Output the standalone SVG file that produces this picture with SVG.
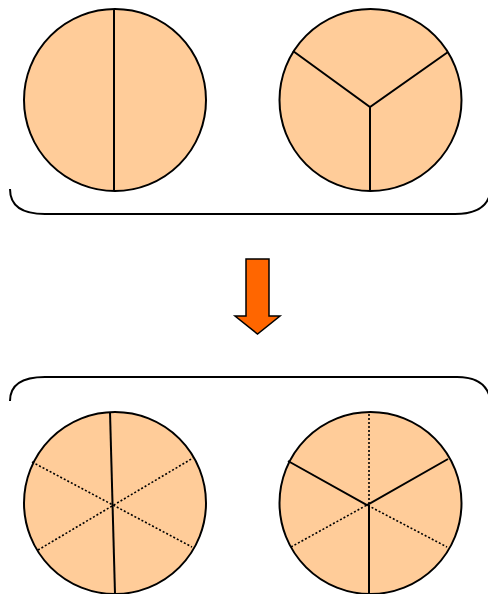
<svg xmlns="http://www.w3.org/2000/svg" width="488" height="594" viewBox="0 0 488 594">
<style>
.pie{fill:#FFCC99;stroke:#000;stroke-width:2}
.cut{stroke:#000;stroke-width:2;fill:none}
.dot{stroke:#000;stroke-width:1.6;stroke-dasharray:2,2;fill:none}
.br{stroke:#000;stroke-width:2;fill:none}
</style>
<g id="top-left">
<circle class="pie" cx="115" cy="100" r="91"/>
<line class="cut" x1="114" y1="9" x2="114" y2="191"/>
</g>
<g id="top-right">
<circle class="pie" cx="370.5" cy="100" r="91"/>
<polyline class="cut" points="293,51 370,107 448,52"/>
<line class="cut" x1="370" y1="107" x2="370" y2="191"/>
</g>
<g id="top-bracket">
<path class="br" d="M10,189 Q10,214 45,214 H455 Q485,214 490,194"/>
</g>
<g id="arrow">
<polygon points="246,259 269,259 269,316 280,316 257.5,334 235,316 246,316" fill="#FF6600" stroke="#000" stroke-width="1.5"/>
</g>
<g id="bottom-bracket">
<path class="br" d="M10,401 Q10,377 45,377 H457 Q485,377 490,398"/>
</g>
<g id="bottom-left">
<circle class="pie" cx="115" cy="503" r="91"/>
<line class="dot" x1="32" y1="462" x2="192" y2="547"/>
<line class="dot" x1="38" y1="550" x2="193" y2="458"/>
<line class="cut" x1="110" y1="412" x2="115" y2="594"/>
</g>
<g id="bottom-right">
<circle class="pie" cx="370.5" cy="503" r="91"/>
<line class="dot" x1="369" y1="414" x2="369" y2="505"/>
<polyline class="dot" points="291,547 367,505 447,547"/>
<polyline class="cut" points="288,461 367,505 448,459"/>
<line class="cut" x1="369" y1="505" x2="369" y2="594"/>
</g>
</svg>
